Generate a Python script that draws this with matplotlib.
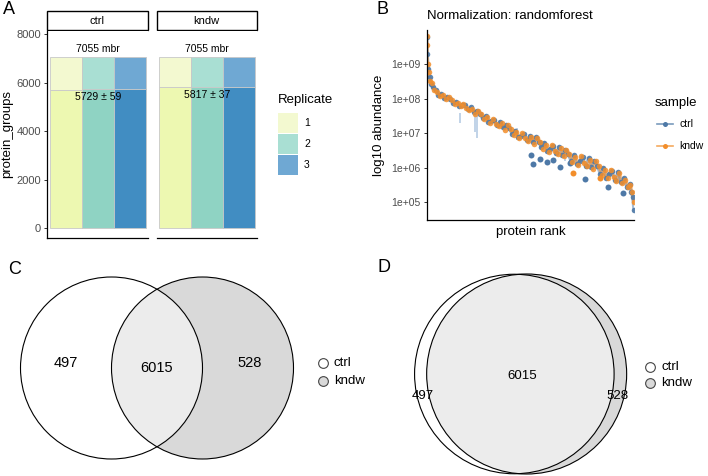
import numpy as np
import matplotlib
matplotlib.use('Agg')
import matplotlib.pyplot as plt
from matplotlib.patches import Rectangle, Circle

plt.rcParams['font.family'] = ['Liberation Sans', 'DejaVu Sans']

W, H = 708, 476

# ---------------- data ----------------
# panel A: identified protein groups per replicate
conditions = ['ctrl', 'kndw']
replicates = ['1', '2', '3']
ids_ctrl = [5705, 5740, 5742]
ids_kndw = [5800, 5817, 5834]
ids_mbr = [7055, 7055]
summary_labels = ['5729 ± 59', '5817 ± 37']

# panel B: protein abundance by rank (log10 values)
ctrl_rank = [1, 20, 50, 100, 150, 200, 300, 400, 500, 600,
             700, 800, 900, 1000, 1100, 1200, 1300, 1400, 1500, 1600,
             1700, 1800, 1900, 2000, 2100, 2200, 2300, 2400, 2500, 2600,
             2700, 2800, 2900, 3000, 3100, 3200, 3300, 3400, 3500, 3600,
             3700, 3800, 3900, 4000, 4100, 4200, 4300, 4400, 4500, 4600,
             4700, 4800, 4900, 5000, 5100, 5200, 5300, 5400, 5500, 5600,
             5700, 5800, 5900, 6000, 6100, 6200, 6300, 6400, 6500, 6600,
             6700, 6800, 6900, 6950, 7000, 7040]
ctrl_log = [9.78, 9.31, 8.87, 8.64, 8.43, 8.34, 8.25, 8.12, 8.13, 8.03,
            8.05, 7.99, 7.88, 7.92, 7.80, 7.81, 7.82, 7.69, 7.75, 7.62,
            7.66, 7.57, 7.44, 7.50, 7.34, 7.35, 7.39, 7.23, 7.32, 7.17,
            7.24, 7.14, 6.99, 7.08, 6.89, 6.92, 6.97, 6.80, 6.93, 6.75,
            6.88, 6.76, 6.59, 6.72, 6.48, 6.55, 6.63, 6.43, 6.60, 6.38,
            6.53, 6.40, 6.21, 6.37, 6.11, 6.19, 6.30, 6.06, 6.27, 6.02,
            6.19, 6.05, 5.82, 6.00, 5.71, 5.81, 5.91, 5.65, 5.88, 5.60,
            5.70, 5.45, 5.52, 5.30, 5.15, 4.78]
kndw_rank = [1, 10, 35, 75, 125, 175, 250, 350, 450, 550,
             650, 750, 850, 950, 1050, 1150, 1250, 1350, 1450, 1550,
             1650, 1750, 1850, 1950, 2050, 2150, 2250, 2350, 2450, 2550,
             2650, 2750, 2850, 2950, 3050, 3150, 3250, 3350, 3450, 3550,
             3650, 3750, 3850, 3950, 4050, 4150, 4250, 4350, 4450, 4550,
             4650, 4750, 4850, 4950, 5050, 5150, 5250, 5350, 5450, 5550,
             5650, 5750, 5850, 5950, 6050, 6150, 6250, 6350, 6450, 6550,
             6650, 6750, 6850, 6925, 6975, 7035]
kndw_log = [9.82, 9.55, 9.02, 8.78, 8.51, 8.45, 8.25, 8.21, 8.08, 8.10,
            7.98, 8.05, 7.97, 7.86, 7.89, 7.78, 7.85, 7.73, 7.67, 7.71,
            7.56, 7.65, 7.55, 7.41, 7.46, 7.31, 7.41, 7.28, 7.20, 7.29,
            7.11, 7.23, 7.13, 6.96, 7.03, 6.86, 7.00, 6.85, 6.78, 6.90,
            6.70, 6.87, 6.76, 6.55, 6.66, 6.47, 6.66, 6.49, 6.40, 6.57,
            6.33, 6.53, 6.41, 6.18, 6.31, 6.09, 6.33, 6.13, 6.04, 6.24,
            5.96, 6.19, 6.05, 5.79, 5.93, 5.69, 5.95, 5.72, 5.61, 5.84,
            5.56, 5.66, 5.44, 5.50, 5.30, 5.00]
ctrl_low_rank = [3536, 3604, 3852, 4100, 4304, 4532, 4872, 5382, 6174, 6684]
ctrl_low_log = [6.37, 6.11, 6.25, 6.17, 6.23, 6.01, 6.13, 5.67, 5.45, 5.26]
kndw_low_rank = [4985, 5900]
kndw_low_log = [5.86, 5.70]
err_rank = [1130, 1640, 1720, 3060, 4700, 6550]
err_lo = [7.30, 7.03, 6.87, 6.80, 6.20, 5.55]
err_hi = [7.59, 7.67, 7.53, 7.15, 6.55, 5.90]

# panels C and D: overlap of identified proteins
venn_sets = ['ctrl', 'kndw']
only_ctrl = 497
both = 6015
only_kndw = 528

# ---------------- styling ----------------
rep_dark = ['#edf8b1', '#8fd3c3', '#418dc2']
rep_light = ['#f3f9d0', '#a9dfd3', '#6fa8d3']
blue = '#4e79a7'
orange = '#f28e2b'
grey_txt = '#4d4d4d'

fig = plt.figure(figsize=(W / 100, H / 100), dpi=100)


def px_axes(x0, y0, x1, y1):
    return fig.add_axes([x0 / W, 1 - y1 / H, (x1 - x0) / W, (y1 - y0) / H])


overlay = px_axes(0, 0, W, H)
overlay.set_xlim(0, W)
overlay.set_ylim(H, 0)
overlay.axis('off')

# ---------------- panel A ----------------
facet_x = [47.3, 156.5]
for k, ids in enumerate([ids_ctrl, ids_kndw]):
    x0 = facet_x[k]
    ax = px_axes(x0, 31, x0 + 100.4, 237.7)
    xs = np.arange(len(replicates))
    ax.bar(xs, ids, width=1, color=rep_dark, edgecolor='#c8c8c8', linewidth=0.6)
    ax.bar(xs, [ids_mbr[k] - v for v in ids], bottom=ids, width=1,
           color=rep_light, edgecolor='#c8c8c8', linewidth=0.6)
    ax.set_xlim(-0.584, 2.553)
    ax.set_ylim(-387, 8123)
    ax.text(1, ids_mbr[k] + 315, f'{ids_mbr[k]} mbr', ha='center', va='center', fontsize=7.5)
    ax.text(1, np.mean(ids) - 325, summary_labels[k], ha='center', va='center', fontsize=7.5)
    for s in ['top', 'right']:
        ax.spines[s].set_visible(False)
    ax.spines['bottom'].set_linewidth(0.9)
    ax.set_xticks([])
    if k == 0:
        ax.spines['left'].set_linewidth(0.9)
        ax.set_yticks([0, 2000, 4000, 6000, 8000])
        ax.tick_params(axis='y', length=2.2, width=0.7, pad=2.4, labelsize=8,
                       labelcolor=grey_txt, color='#333333')
        ax.set_ylabel('protein_groups', fontsize=9.5, labelpad=2.5)
    else:
        ax.spines['left'].set_visible(False)
        ax.set_yticks([])
    overlay.add_patch(Rectangle((x0, 11), 100.4, 19, facecolor='white',
                                edgecolor='black', linewidth=1.0))
    overlay.text(x0 + 50.2, 20.5, conditions[k], ha='center', va='center', fontsize=8)

overlay.text(278, 100, 'Replicate', ha='left', va='center', fontsize=9.5)
for i, rep in enumerate(replicates):
    yk = 113 + i * 21
    overlay.add_patch(Rectangle((278.3, yk), 20, 19.5, facecolor=rep_light[i], edgecolor='none'))
    overlay.text(304, yk + 10, rep, ha='left', va='center', fontsize=7.5)

# ---------------- panel B ----------------
axb = px_axes(426.7, 30, 634, 220)
ctrl_y = 10 ** np.array(ctrl_log)
kndw_y = 10 ** np.array(kndw_log)
axb.vlines(err_rank, 10 ** np.array(err_lo), 10 ** np.array(err_hi), color='#8fb0d6', alpha=0.7, lw=1.1)
axb.plot(ctrl_rank, ctrl_y, color=blue, lw=2.2, alpha=0.5, solid_joinstyle='round')
axb.plot(kndw_rank, kndw_y, color=orange, lw=2.2, alpha=0.5, solid_joinstyle='round')
axb.plot(ctrl_rank, ctrl_y, 'o', color=blue, ms=4.0, mec='none', alpha=0.9)
axb.plot(ctrl_low_rank, 10 ** np.array(ctrl_low_log), 'o', color=blue, ms=4.3, mec='none')
axb.plot(kndw_rank, kndw_y, 'o', color=orange, ms=4.0, mec='none', alpha=0.85)
axb.plot(kndw_low_rank, 10 ** np.array(kndw_low_log), 'o', color=orange, ms=4.3, mec='none')
axb.set_yscale('log')
axb.set_ylim(10 ** 4.487, 10 ** 9.994)
axb.set_xlim(0, 7045)
axb.set_yticks([1e5, 1e6, 1e7, 1e8, 1e9])
axb.set_yticklabels(['1e+05', '1e+06', '1e+07', '1e+08', '1e+09'])
axb.minorticks_off()
axb.tick_params(axis='y', length=2.2, width=0.7, pad=2.4, labelsize=7.5,
                labelcolor=grey_txt, color='#333333')
axb.set_xticks([])
for s in ['top', 'right']:
    axb.spines[s].set_visible(False)
axb.spines['left'].set_linewidth(0.9)
axb.spines['bottom'].set_linewidth(0.9)
axb.set_ylabel('log10 abundance', fontsize=9.5, labelpad=4.5)
axb.set_xlabel('protein rank', fontsize=9.5, labelpad=4)
axb.set_title('Normalization: randomforest', loc='left', fontsize=9.5, pad=8)

overlay.text(655, 103, 'sample', ha='left', va='center', fontsize=9.5)
for i, (name, col) in enumerate([('ctrl', blue), ('kndw', orange)]):
    yl = 124 + i * 22
    overlay.plot([657, 673], [yl, yl], color=col, lw=1.2, alpha=0.75)
    overlay.plot([665], [yl], 'o', color=col, ms=3.6, mec='none')
    overlay.text(679, yl, name, ha='left', va='center', fontsize=7.5)

# ---------------- panels C and D ----------------
axv = px_axes(0, 250, W, H)
axv.set_xlim(0, W)
axv.set_ylim(H, 250)
axv.axis('off')


def draw_venn(cx1, cx2, cy, r1, r2):
    c_ctrl = Circle((cx1, cy), r1, facecolor='white', edgecolor='none', zorder=1)
    c_kndw = Circle((cx2, cy), r2, facecolor='#d9d9d9', edgecolor='none', zorder=1)
    axv.add_patch(c_ctrl)
    axv.add_patch(c_kndw)
    inter = Circle((cx2, cy), r2, facecolor='#ececec', edgecolor='none', zorder=2)
    axv.add_patch(inter)
    inter.set_clip_path(c_ctrl)
    for c, r in [(cx1, r1), (cx2, r2)]:
        axv.add_patch(Circle((c, cy), r, fill=False, edgecolor='black', lw=0.8, zorder=3))


# C: classic (non proportional) two-set diagram
rc = 91
cC, cyC = 157, 368
draw_venn(cC - rc / 2, cC + rc / 2, cyC, rc, rc)
axv.text(cC - rc * 1.0, cyC - 4.5, str(only_ctrl), ha='center', va='center', fontsize=10.5, zorder=4)
axv.text(cC, cyC, str(both), ha='center', va='center', fontsize=10.5, zorder=4)
axv.text(cC + rc * 1.02, cyC - 4.5, str(only_kndw), ha='center', va='center', fontsize=10.5, zorder=4)


# D: area proportional diagram
def lens_area(r1, r2, d):
    if d >= r1 + r2:
        return 0.0
    if d <= abs(r1 - r2):
        return np.pi * min(r1, r2) ** 2
    a1 = r1 ** 2 * np.arccos((d * d + r1 * r1 - r2 * r2) / (2 * d * r1))
    a2 = r2 ** 2 * np.arccos((d * d + r2 * r2 - r1 * r1) / (2 * d * r2))
    a3 = 0.5 * np.sqrt((-d + r1 + r2) * (d + r1 - r2) * (d - r1 + r2) * (d + r1 + r2))
    return a1 + a2 - a3


scale = np.pi * 100 ** 2 / (only_kndw + both)
r_k = 100.0
r_c = np.sqrt((only_ctrl + both) * scale / np.pi)
lo, hi = abs(r_k - r_c) + 1e-6, r_k + r_c
for _ in range(60):
    mid = (lo + hi) / 2
    if lens_area(r_c, r_k, mid) > both * scale:
        lo = mid
    else:
        hi = mid
d = (lo + hi) / 2
cD, cyD = 520.5, 374
x_c, x_k = cD - d / 2, cD + d / 2
draw_venn(x_c, x_k, cyD, r_c, r_k)
dy = 22
left_mid = ((x_c - np.sqrt(r_c ** 2 - dy ** 2)) + (x_k - np.sqrt(r_k ** 2 - dy ** 2))) / 2
right_mid = ((x_c + np.sqrt(r_c ** 2 - dy ** 2)) + (x_k + np.sqrt(r_k ** 2 - dy ** 2))) / 2
axv.text(cD + 1.5, cyD + 2, str(both), ha='center', va='center', fontsize=9.5, zorder=4)
axv.text(left_mid, cyD + dy, str(only_ctrl), ha='center', va='center', fontsize=9.5, zorder=4)
axv.text(right_mid, cyD + dy, str(only_kndw), ha='center', va='center', fontsize=9.5, zorder=4)

# Venn legends
for lx, ly0, gap in [(322.7, 362.7, 18), (650, 366.7, 16.6)]:
    for i, (name, fc) in enumerate([('ctrl', 'white'), ('kndw', '#d9d9d9')]):
        axv.plot([lx], [ly0 + i * gap], 'o', ms=7, mfc=fc, mec='#444444', mew=0.8, zorder=4)
        axv.text(lx + 11, ly0 + i * gap, name, ha='left', va='center', fontsize=9.5, zorder=4)

# panel letters
for letter, (lx, ly) in zip('ABCD', [(9, 9), (382, 9), (15, 270), (384, 268)]):
    overlay.text(lx, ly, letter, ha='center', va='center', fontsize=13)

fig.savefig('out.png', dpi=100)
